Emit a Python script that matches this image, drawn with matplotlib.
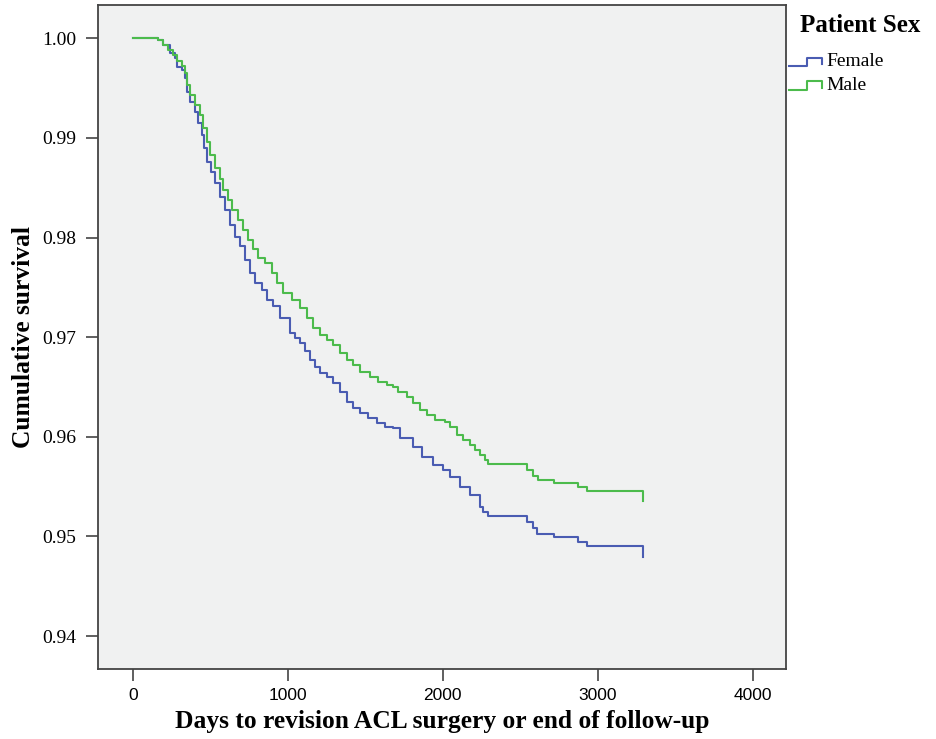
import matplotlib
matplotlib.use("Agg")
import matplotlib.pyplot as plt
from matplotlib.lines import Line2D

# Days and cumulative survival
female_days = [0, 144, 165, 197, 241, 273, 284, 316, 337, 348, 370, 402, 423, 445, 460,
               477, 503, 531, 563, 595, 628, 660, 692, 724, 757, 789, 832, 865, 907, 950,
               1015, 1047, 1080, 1112, 1144, 1176, 1208, 1252, 1294, 1337, 1381, 1423,
               1466, 1520, 1574, 1628, 1681, 1725, 1810, 1865, 1939, 2004, 2047, 2112,
               2176, 2241, 2262, 2290, 2542, 2583, 2606, 2718, 2873, 2929, 3292]
female_surv = [1.0000, 1.0000, 0.9998, 0.9993, 0.9985, 0.9980, 0.9971, 0.9968, 0.9960,
               0.9946, 0.9936, 0.9926, 0.9915, 0.9903, 0.9890, 0.9876, 0.9866, 0.9855,
               0.9841, 0.9828, 0.9813, 0.9801, 0.9791, 0.9777, 0.9764, 0.9754, 0.9747,
               0.9737, 0.9731, 0.9719, 0.9704, 0.9699, 0.9694, 0.9686, 0.9677, 0.9670,
               0.9664, 0.9660, 0.9654, 0.9645, 0.9635, 0.9629, 0.9624, 0.9619, 0.9614,
               0.9610, 0.9609, 0.9599, 0.9590, 0.9580, 0.9572, 0.9567, 0.9560, 0.9550,
               0.9542, 0.9530, 0.9524, 0.9520, 0.9514, 0.9508, 0.9502, 0.9499, 0.9494,
               0.9490, 0.9479]

male_days = [0, 144, 165, 197, 230, 262, 284, 316, 337, 348, 370, 402, 434, 456, 477,
             499, 531, 563, 585, 617, 638, 681, 714, 746, 778, 810, 854, 897, 929, 972,
             1026, 1079, 1122, 1165, 1208, 1252, 1294, 1337, 1381, 1423, 1466, 1531,
             1585, 1639, 1681, 1714, 1768, 1810, 1854, 1897, 1950, 2015, 2050, 2090,
             2130, 2176, 2210, 2241, 2273, 2295, 2542, 2583, 2615, 2718, 2873, 2929,
             3292]
male_surv = [1.0000, 1.0000, 0.9998, 0.9993, 0.9988, 0.9983, 0.9977, 0.9972, 0.9965,
             0.9953, 0.9943, 0.9933, 0.9923, 0.9910, 0.9896, 0.9883, 0.9870, 0.9859,
             0.9848, 0.9838, 0.9828, 0.9818, 0.9808, 0.9798, 0.9788, 0.9779, 0.9774,
             0.9764, 0.9754, 0.9744, 0.9737, 0.9729, 0.9719, 0.9709, 0.9702, 0.9697,
             0.9692, 0.9684, 0.9677, 0.9672, 0.9665, 0.9660, 0.9655, 0.9652, 0.9650,
             0.9645, 0.9640, 0.9634, 0.9627, 0.9622, 0.9617, 0.9615, 0.9610, 0.9602,
             0.9597, 0.9592, 0.9587, 0.9582, 0.9577, 0.9573, 0.9567, 0.9561, 0.9557,
             0.9554, 0.9550, 0.9546, 0.9536]

series_names = ["Female", "Male"]
series_colors = ["#4a5cb2", "#4cbb4c"]

x_ticks = [0, 1000, 2000, 3000, 4000]
y_ticks = [0.94, 0.95, 0.96, 0.97, 0.98, 0.99, 1.00]

SERIF = ["Liberation Serif", "DejaVu Serif"]
SANS = ["Liberation Sans", "DejaVu Sans"]

fig = plt.figure(figsize=(9.36, 7.39), dpi=100)
ax = fig.add_axes([98/936, 1 - 669/739, (786-98)/936, (669-5)/739])
ax.set_facecolor("#f0f1f1")

for days, surv, col in [(female_days, female_surv, series_colors[0]),
                        (male_days, male_surv, series_colors[1])]:
    ax.step(days, surv, where="post", color=col, lw=1.5)

ax.set_xlim(-224, 4215)
ax.set_ylim(0.93669, 1.00334)
ax.set_xticks(x_ticks)
ax.set_xticklabels([str(t) for t in x_ticks], family=SANS, fontsize=12.5)
ax.set_yticks(y_ticks)
ax.set_yticklabels([f"{t:.2f}" for t in y_ticks], family=SERIF, fontsize=14)
ax.tick_params(axis="both", direction="out", length=8.5, width=1.2, color="#444444")
ax.tick_params(axis="y", pad=7)
ax.tick_params(axis="x", pad=5)
for s in ax.spines.values():
    s.set_color("#444444")
    s.set_linewidth(1.3)

ax.set_xlabel("Days to revision ACL surgery or end of follow-up", family=SERIF,
              fontweight="bold", fontsize=18.4, labelpad=5)
ax.set_ylabel("Cumulative survival", family=SERIF, fontweight="bold", fontsize=18.4,
              labelpad=5)

# Legend (step-shaped handles, SPSS style)
W, H = 936, 739
def fx(px):
    return px / W
def fy(py):
    return 1 - py / H

fig.text(fx(860), fy(25), "Patient Sex", family=SERIF, fontweight="bold",
         fontsize=18, ha="center", va="center")
for i, (name, col) in enumerate(zip(series_names, series_colors)):
    base = 66 + i * 23.5
    xs = [789, 807, 807, 822, 822]
    ys = [base, base, base - 8.5, base - 8.5, base - 2]
    fig.add_artist(Line2D([fx(v) for v in xs], [fy(v) for v in ys], color=col, lw=1.5,
                          transform=fig.transFigure))
    fig.text(fx(826), fy(base - 4), name, family=SERIF, fontsize=14, ha="left",
             va="center")

fig.savefig("out.png", dpi=100)
